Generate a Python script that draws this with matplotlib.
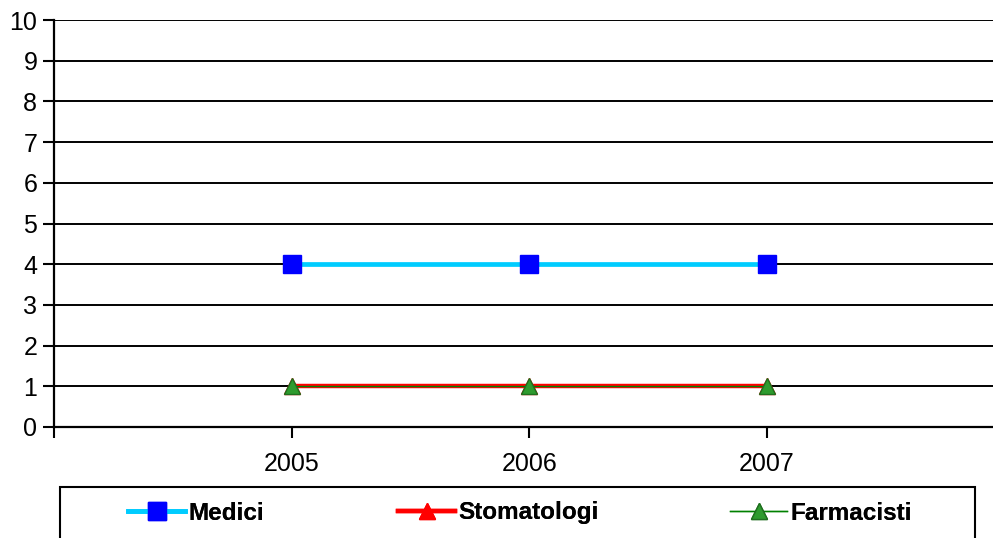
import matplotlib
matplotlib.use("Agg")
import matplotlib.pyplot as plt
from matplotlib.patches import Rectangle

years = [2005, 2006, 2007]
medici = [4, 4, 4]
stomatologi = [1, 1, 1]
farmacisti = [1, 1, 1]
yticks = list(range(0, 11))

plt.rcParams['font.family'] = ['Liberation Sans', 'DejaVu Sans']

W, H = 993, 538
fig = plt.figure(figsize=(W / 100, H / 100), dpi=100)
ax = fig.add_axes([54 / W, 1 - 427 / H, 1 - 54 / W, (427 - 20) / H])

ax.set_xlim(2004, 2004 + (W - 54) / 237.7)
ax.set_ylim(0, 10)

l1, = ax.plot(years, medici, color='#00CCFF', lw=3.4, marker='s', ms=13,
              mfc='#0000FF', mec='#0000FF', zorder=3, label='Medici')
l2, = ax.plot(years, stomatologi, color='#FF0000', lw=3.2, marker='^', ms=11,
              mfc='#FF0000', mec='#FF0000', zorder=4, label='Stomatologi')
l3, = ax.plot(years, farmacisti, color='#008000', lw=1.0, marker='^', ms=11,
              mfc='#2E9B2E', mec='#1F6F1F', mew=1.0, zorder=5, label='Farmacisti')

ax.set_yticks(yticks)
ax.set_yticklabels([str(v) for v in yticks])
ax.set_xticks([2004, 2005, 2006, 2007])
ax.set_xticklabels(['', '2005', '2006', '2007'])
ax.grid(axis='y', color='black', lw=1.4)
ax.set_axisbelow(True)
for s in ['top', 'right']:
    ax.spines[s].set_visible(False)
for s in ['left', 'bottom']:
    ax.spines[s].set_linewidth(1.6)
ax.tick_params(axis='both', direction='out', length=8, width=1.5,
               labelsize=18, colors='black')
ax.tick_params(axis='x', pad=10)
ax.tick_params(axis='y', pad=4)

# Legend box
fig.patches.append(Rectangle((60 / W, -0.05), (975 - 60) / W, 0.05 + 1 - 487 / H,
                             transform=fig.transFigure, fill=False,
                             edgecolor='black', lw=1.5))

for line, xs in [(l1, 128), (l2, 398), (l3, 730)]:
    leg = fig.legend(handles=[line], loc='center left',
                     bbox_to_anchor=(xs / W, 1 - 513 / H),
                     frameon=False, prop={'weight': 'bold', 'size': 17.5},
                     handlelength=2.35, handletextpad=0.15, borderpad=0,
                     borderaxespad=0, numpoints=1, markerscale=1.0)
    fig.add_artist(leg)

fig.savefig('out.png', dpi=100)
